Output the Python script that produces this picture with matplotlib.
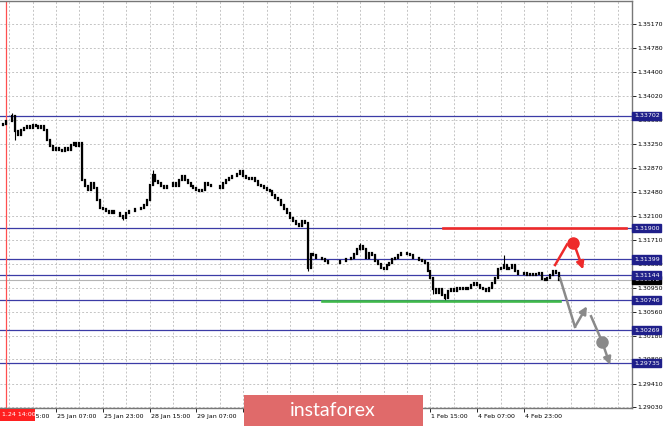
import numpy as np
import matplotlib
matplotlib.use("Agg")
import matplotlib.pyplot as plt
from matplotlib.patches import Rectangle
import matplotlib.transforms as mtransforms

# ---- hourly closes, bar 0 = 24 Jan 12:00 (weekend skipped) ----
closes = [
    1.3356, 1.3357, 1.3361, 1.3362, 1.3370, 1.3345, 1.3340, 1.3348, 1.3351, 1.3354,
    1.3351, 1.3356, 1.3353, 1.3351, 1.3354, 1.3348, 1.3332, 1.3322, 1.3316, 1.3319,
    1.3316, 1.3314, 1.3319, 1.3316, 1.3324, 1.3327, 1.3322, 1.3327, 1.3268, 1.3258,
    1.3252, 1.3262, 1.3255, 1.3236, 1.3223, 1.3220, 1.3217, 1.3215, 1.3218, 1.3215,
    1.3214, 1.3210, 1.3207, 1.3214, 1.3217, 1.3218, 1.3220, 1.3220, 1.3223, 1.3228,
    1.3236, 1.3260, 1.3276, 1.3265, 1.3262, 1.3258, 1.3255, 1.3257, 1.3258, 1.3262,
    1.3258, 1.3268, 1.3274, 1.3268, 1.3262, 1.3258, 1.3255, 1.3252, 1.3249, 1.3252,
    1.3262, 1.3260, 1.3258, 1.3258, 1.3257, 1.3255, 1.3262, 1.3268, 1.3271, 1.3274,
    1.3274, 1.3277, 1.3281, 1.3274, 1.3271, 1.3269, 1.3271, 1.3265, 1.3260, 1.3258,
    1.3255, 1.3252, 1.3249, 1.3244, 1.3239, 1.3236, 1.3228, 1.3220, 1.3215, 1.3207,
    1.3201, 1.3196, 1.3194, 1.3201, 1.3198, 1.3127, 1.3148, 1.3147, 1.3143, 1.3143,
    1.3140, 1.3137, 1.3135, 1.3135, 1.3134, 1.3134, 1.3137, 1.3137, 1.3140, 1.3140,
    1.3143, 1.3148, 1.3156, 1.3161, 1.3156, 1.3143, 1.3150, 1.3147, 1.3137, 1.3132,
    1.3127, 1.3124, 1.3131, 1.3134, 1.3140, 1.3143, 1.3147, 1.3150, 1.3151, 1.3148,
    1.3147, 1.3143, 1.3142, 1.3139, 1.3137, 1.3134, 1.3121, 1.3111, 1.3092, 1.3086,
    1.3092, 1.3083, 1.3079, 1.3089, 1.3092, 1.3089, 1.3095, 1.3092, 1.3094, 1.3092,
    1.3095, 1.3099, 1.3102, 1.3099, 1.3095, 1.3092, 1.3089, 1.3095, 1.3102, 1.3111,
    1.3124, 1.3127, 1.3131, 1.3124, 1.3127, 1.3131, 1.3121, 1.3116, 1.3116, 1.3118,
    1.3115, 1.3116, 1.3115, 1.3116, 1.3118, 1.3108, 1.3107, 1.3111, 1.3115, 1.3121,
    1.3118, 1.3107,
]
first_open = 1.3355
# bars with visible wicks
spike_idx = [4, 5, 42, 52, 105, 123, 148, 152, 172]
spike_hi  = [1.3375, 1.3371, 1.3211, 1.3284, 1.3199, 1.3166, 1.3112, 1.3085, 1.3147]
spike_lo  = [1.3361, 1.3332, 1.3203, 1.3259, 1.3121, 1.3155, 1.3085, 1.3073, 1.3126]

levels = [1.33702, 1.31900, 1.31399, 1.31144, 1.30746, 1.30269, 1.29735]
last_price = 1.31072
vline_bar = 2          # 24 Jan 14:00
vline_lbl = "1.24 14:00"
yticks = [1.35170, 1.34780, 1.34400, 1.34020, 1.33630, 1.33250, 1.32870, 1.32480,
          1.32100, 1.31710, 1.31330, 1.30950, 1.30560, 1.30180, 1.29800, 1.29410, 1.29030]
xtick_idx = [3, 19, 35, 51, 67, 83, 99, 115, 131, 147, 163, 179]
# labels under the watermark are left blank
xtick_lbl = ["24 Jan 15:00", "25 Jan 07:00", "25 Jan 23:00", "28 Jan 15:00",
             "29 Jan 07:00", "", "", "", "", "1 Feb 15:00", "4 Feb 07:00", "4 Feb 23:00"]
grid_idx = list(range(3, 216, 8))

# ---- forecast drawings (bar index, price) ----
red_hline = ([151.3, 213.9], 1.3190)
green_hline = ([110.0, 191.3], 1.3073)
red_up = ([189.6, 193.7], [1.3131, 1.3164])
red_dot = (195.8, 1.3167)
red_arrow = ((196.4, 1.3161), (199.2, 1.3124))
grey_down = ([191.3, 196.4], [1.3110, 1.3032])
grey_arrow1 = ((196.4, 1.3032), (200.5, 1.3065))
grey_down2 = ([201.9, 205.7], [1.3049, 1.3008])
grey_dot = (205.7, 1.3008)
grey_arrow2 = ((205.7, 1.3008), (208.4, 1.2971))

FONT = "DejaVu Sans"
FS = 4.5
NAVY = "#1f1f8a"
LEVEL = "#3b3ba6"
RED = "#ee2a2a"
GREY = "#8a8a8a"

fig = plt.figure(figsize=(6.65, 4.26), dpi=100)
ax = fig.add_axes([0, 18 / 426, 632 / 665, 407 / 426])
ax.set_xlim(-0.14, 215.9)
ax.set_ylim(1.2902, 1.3554)

# grid
for g in grid_idx:
    ax.axvline(g, color="#c4c4c4", lw=0.7, ls=(0, (2, 2)), zorder=0)
for t in yticks:
    ax.axhline(t, color="#c4c4c4", lw=0.7, ls=(0, (2, 2)), zorder=0)

# levels
for lv in levels:
    ax.axhline(lv, color=LEVEL, lw=0.9, zorder=2)
ax.axhline(last_price, color="#b4b4b4", lw=0.8, zorder=1)
ax.axvline(vline_bar, color="#ff5050", lw=0.9, zorder=2)

# candles
c = np.array(closes)
o = np.concatenate([[first_open], c[:-1]])
x = np.arange(len(c))
hi = np.maximum(o, c)
lo = np.minimum(o, c)
whi, wlo = hi.copy(), lo.copy()
whi[spike_idx] = spike_hi
wlo[spike_idx] = spike_lo
ax.vlines(x, wlo, whi, color="black", lw=0.8, zorder=3)
bd = ax.vlines(x, lo, hi, color="black", lw=1.6, zorder=3)
bd.set_capstyle("projecting")

# forecast drawings
arrow_kw = dict(arrowstyle="-|>", lw=1.8, mutation_scale=11, shrinkA=0, shrinkB=0)
ax.plot(red_hline[0], [red_hline[1]] * 2, color=RED, lw=1.9, zorder=4)
ax.plot(green_hline[0], [green_hline[1]] * 2, color="#3fb94a", lw=1.9, zorder=4)
ax.plot(*red_up, color=RED, lw=1.8, zorder=5)
ax.plot(*red_dot, "o", color=RED, ms=8, zorder=5)
ax.annotate("", xy=red_arrow[1], xytext=red_arrow[0], zorder=5,
            arrowprops=dict(color=RED, **arrow_kw))
ax.plot(*grey_down, color=GREY, lw=1.8, zorder=5)
ax.annotate("", xy=grey_arrow1[1], xytext=grey_arrow1[0], zorder=5,
            arrowprops=dict(color=GREY, **arrow_kw))
ax.plot(*grey_down2, color=GREY, lw=1.8, zorder=5)
ax.plot(*grey_dot, "o", color=GREY, ms=8, zorder=5)
ax.annotate("", xy=grey_arrow2[1], xytext=grey_arrow2[0], zorder=5,
            arrowprops=dict(color=GREY, **arrow_kw))

# axes look
ax.spines["left"].set_visible(False)
for s in ["top", "right", "bottom"]:
    ax.spines[s].set_color("#777777")
    ax.spines[s].set_linewidth(1.0)
ax.yaxis.tick_right()
ax.set_yticks(yticks)
ax.set_yticklabels([f"{t:.5f}" for t in yticks], fontsize=FS, family=FONT)
ax.tick_params(axis="y", length=3, width=0.6, pad=1, colors="black")
ax.set_xticks(xtick_idx)
ax.set_xticklabels(xtick_lbl, fontsize=FS, family=FONT, ha="left")
ax.tick_params(axis="x", length=3, width=0.6, pad=1.5, colors="black")
for lab in ax.get_xticklabels():
    lab.set_transform(lab.get_transform() + mtransforms.ScaledTranslation(1 / 100, 0, fig.dpi_scale_trans))

# right-side price labels
trans = mtransforms.blended_transform_factory(ax.transAxes, ax.transData)
ax.text(1.003, last_price, f"{last_price:.5f}", transform=trans, fontsize=FS, family=FONT,
        color="white", va="center", ha="left", zorder=6, clip_on=False,
        bbox=dict(boxstyle="square,pad=0.25", fc="black", ec="black"))
for lv in levels:
    ax.text(1.003, lv, f"{lv:.5f}", transform=trans, fontsize=FS, family=FONT,
            color="white", va="center", ha="left", zorder=7, clip_on=False,
            bbox=dict(boxstyle="square,pad=0.25", fc=NAVY, ec=NAVY))

# current time label on the left edge
fig.add_artist(Rectangle((0, 5 / 426), 35 / 665, 12 / 426, transform=fig.transFigure,
                         fc="#ff2020", ec="none", zorder=8))
fig.text(1.5 / 665, 11 / 426, vline_lbl, fontsize=FS, family=FONT, color="white",
         ha="left", va="center", zorder=9)

# watermark
fig.add_artist(Rectangle((244 / 665, 0), 179 / 665, 31 / 426, transform=fig.transFigure,
                         fc="#e06a6a", ec="none", zorder=10))
fig.text(333 / 665, 15 / 426, "instaforex", color="white", fontsize=14, family="Lato",
         ha="center", va="center", zorder=11)

fig.savefig("out.png", dpi=100)
